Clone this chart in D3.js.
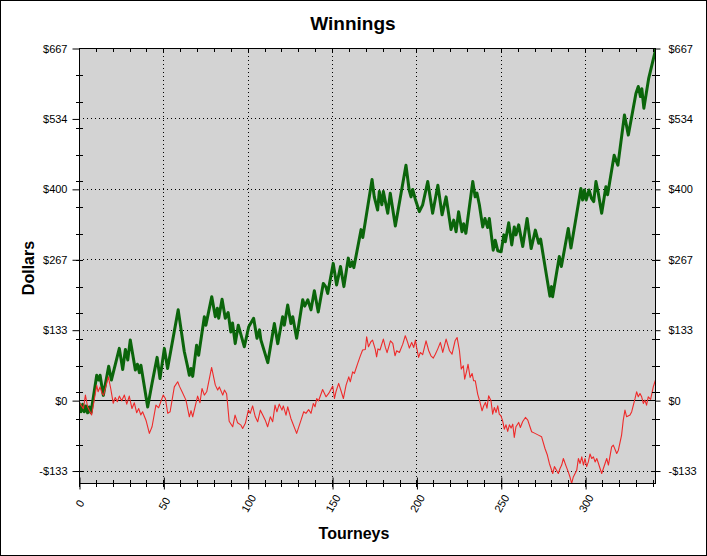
<!DOCTYPE html>
<html><head><meta charset="utf-8">
<script src="https://cdn.jsdelivr.net/npm/d3@7"></script>
<style>
body{margin:0;background:#fff;}
svg{display:block;font-family:"Liberation Sans",Arial,sans-serif;}
</style></head><body>
<svg id="chart" width="707" height="556"></svg>
<script>
// ---- data ----
const greenTourney = [0,1.2,2.2,3.1,4.1,5.1,6.1,7.1,10.5,11.7,12.5,14.4,17.6,19.2,23.9,25.9,27.5,28.9,30.4,33.4,34.6,35.8,36.7,40.7,43.3,46.3,48,50.6,52.5,58.8,62.4,64.4,65.4,66.4,67.4,69.7,70.9,74.3,75.2,78.7,80.8,82,82.8,84.8,86.7,88.4,90,91,92.6,94.4,98,100.6,103.5,105.5,107,107.8,111.9,115.8,117.8,120.7,121.7,123.7,125.6,126.7,129,132.6,133.8,135.6,137.5,139.5,141.8,144.8,146.4,147.4,150.7,152.7,155,157,159.6,160.8,162,162.9,167.2,168.2,171.1,173.7,175,177,178,179.5,180.4,183,184.5,187.5,193.8,195.7,196.8,197.8,199.2,201.7,203.7,206.7,209.6,212.7,215.2,217.6,220.5,222.1,223.5,225,227,228,229.3,233.4,234.8,235.9,237.3,239.3,240.6,242.2,243.2,245.5,246.7,248.2,250.2,251.8,252.7,254.7,256.5,258,259,260.6,263,265.6,268,270.5,272.5,273.6,274.8,279.1,280.1,280.7,284.7,285.9,290,291.6,297.5,298.5,299.6,300.6,302.3,303.8,305.1,306.4,307.8,309.8,312.3,313.3,317.2,319.4,323.3,325.6,330.1,331.5,332.8,333.6,334.8,337.7,342];
const greenDollars = [-5,-22,-8,-22,-11,-24,-13,-24,47,38,47,9,64,38,98,58,96,76,114,57,68,52,66,-13,32,81,41,98,60,171,92,63,47,60,45,104,85,158,142,196,158,174,155,191,155,166,129,146,107,142,101,139,155,117,133,114,71,145,107,158,142,180,145,158,117,190,178,190,171,207,167,221,214,202,259,218,253,215,269,253,262,251,323,308,366,418,385,360,395,370,395,354,392,330,445,398,385,399,382,357,370,414,354,407,351,385,323,341,319,357,319,334,316,414,385,392,370,328,344,327,344,284,303,283,281,313,300,336,294,328,313,332,291,344,287,322,297,305,281,197,215,196,272,253,325,288,401,379,398,379,398,382,376,414,392,354,404,389,464,445,540,502,581,594,575,590,553,610,667];

const redTourney = [0,2.6,3.8,5.1,7.5,10.5,11.3,12.5,13.6,14.6,17.4,18.8,20.3,21.5,22.7,23.9,25.3,26.9,28.3,29.8,31.4,32.8,34.2,35.4,36.6,37.7,39.7,41.7,43.3,45.6,47.2,49.9,51.2,52.6,54,56.5,58.5,59.5,61.1,63.4,65.4,66.4,67.4,70.3,71.7,72.9,74.3,75.7,78.6,80.8,82.2,83.2,85.2,86.2,87.5,89,91.1,92.5,94,96,97,98.6,100.4,101.5,102.9,104.5,105.9,107.5,108.9,110.4,111.8,113.4,114.8,116.2,117.3,118.7,120.3,121.1,122.7,123.7,125.6,129,131.6,133.2,134.5,136.1,137.5,138.9,139.9,140.9,142,144.4,146.4,148,150.4,151.4,152.3,153.9,155.3,156.7,158.3,159.9,160.8,162.2,163.2,165.2,166.7,168.1,169.7,170.5,171.6,173,174,175.6,176.4,177.2,178.4,180.4,181.6,182.6,184.6,186,187.3,188.3,189.9,191.9,193.4,194.8,195.8,197.2,198.4,199.4,200.1,201.3,202.3,203.7,205.7,207.3,208.6,210,211.2,212.6,214.2,215.6,217.6,219.6,221.1,222.9,224.1,225.5,226.6,227.8,228.6,229.8,230.6,231.8,233,233.9,234.9,236.3,237.7,238.9,239.9,240.9,241.8,242.8,244.2,245.2,246.2,247.2,248.2,249.1,250.1,251.1,252.1,253.1,254.1,255.1,256.1,257.1,258,259,260.6,261.6,263,264.6,266,267.3,268.3,270.3,272.3,274.2,276.2,277.6,278.8,280.8,281.8,284.1,285.1,286.1,287.1,288.7,290,291,292,293,295,296,297,298,299,299.9,300.9,301.9,302.9,303.9,304.9,305.9,306.9,307.9,309.8,310.8,312.8,313.8,315.7,316.7,318.7,319.7,321.6,322.6,323.6,324.6,326.6,327.6,329.6,330.5,331.5,332.5,333.5,334.5,335.4,336.4,337.4,338.8,340.4,342];
const redDollars = [-4,-16,9.5,-12.6,-28,28,16,25,13,9.5,44,22,-6,5,-3,7.6,-1.3,9.5,-7.6,7.6,-16,-5,-24,-16,-28,-22,-38,-63,-50.5,-9.5,-14.5,9.5,3,-25,-22,25,34.7,26.5,15.8,0,-31.6,-20,-31.6,7.6,-5,22,9.5,15.8,61.9,28.4,19,25,9.5,19,12,-40,-50.5,-28.4,-43,-47.4,-53.7,-44,-19,-25,-11,-31.6,-41,-19,-28.4,-38,-50.5,-31.6,-41,-9.5,-22,-7.6,-19,-11,-28.4,-12.6,-34.7,-63,-38,-22,-25,-18,-25,-6.3,-12.6,3,-1.3,20,6.3,12.6,26.5,3,15.8,31.6,17.7,3,28.4,44,34.7,53.7,50.5,69.5,83.4,94.8,96,120,101,110.6,113.7,96,82,97,95,115.6,99.8,90,112.4,107.5,84,93.5,90.3,106,122,109.3,98.6,109.3,99.8,113.7,99.8,80.9,90.3,86,112.4,93.5,84,79.6,87,96.6,109.3,90.3,115.6,93.5,87,112.4,118.7,93.5,58.8,65,39.8,55.6,68,43,50.5,36.6,36.6,11.4,-4.4,-20.2,-10.7,-4.4,-15.2,8.2,-1.3,-26.5,-13.9,-23.4,-10.7,-26.5,-29.7,-39.2,-55,-46.7,-59.3,-46.7,-53,-45.5,-70.7,-50.5,-42.3,-51.8,-40.4,-32.8,-37.9,-50.5,-60,-63,-66.3,-69.5,-91.6,-104,-120,-139,-126,-139,-129.6,-123,-110.6,-125,-136,-145.6,-158,-145.6,-133,-110.6,-120,-107.5,-123,-110.6,-126,-117,-102,-110.6,-107.5,-117,-110.6,-120,-139,-129.6,-110.6,-123,-88.5,-85.3,-101,-94.8,-66.3,-37.9,-18.9,-31.6,-28.4,-22,3.2,15.8,6.3,12.6,6.3,-6.3,0,-9.5,6.3,1.3,25.3,41];

const yTickValues = [-133.4, 0, 133.4, 266.8, 400.2, 533.6, 667];
const yTickLabels = ["-$133", "$0", "$133", "$267", "$400", "$534", "$667"];
const yMinorTicks = [-135, -85, -35, 15, 65, 115, 165, 215, 265, 315, 365, 415, 465, 515, 565, 615];
const xTickValues = [0, 50, 100, 150, 200, 250, 300];
const xTickLabels = ["0", "50", "100", "150", "200", "250", "300"];
const xMinorTicks = [0,10,20,30,40,50,60,70,80,90,100,110,120,130,140,150,160,170,180,190,200,210,220,230,240,250,260,270,280,290,300,310,320,330,340];

const title = "Winnings", xTitle = "Tourneys", yTitle = "Dollars";

// ---- drawing ----
const svg = d3.select("#chart");
const L = 79, R = 656, T = 48, B = 483;
const x = d3.scaleLinear().domain([0, 342]).range([L, R]);
const y = d3.scaleLinear().domain([-157, 667]).range([B, T]);

svg.append("rect").attr("x", 0.5).attr("y", 0.5).attr("width", 706).attr("height", 555)
  .attr("fill", "#fff").attr("stroke", "#000").attr("stroke-width", 1);

svg.append("rect").attr("x", L).attr("y", T).attr("width", R - L).attr("height", B - T)
  .attr("fill", "#d3d3d3");

svg.append("defs").append("clipPath").attr("id", "clip")
  .append("rect").attr("x", L).attr("y", T).attr("width", R - L).attr("height", B - T);

const grid = svg.append("g").attr("stroke", "#000").attr("stroke-width", 1).attr("stroke-dasharray", "1,3");
grid.selectAll("line.v").data(xTickValues.filter(d => d > 0)).join("line")
  .attr("x1", d => Math.round(x(d)) + 0.5).attr("x2", d => Math.round(x(d)) + 0.5)
  .attr("y1", T).attr("y2", B);
grid.selectAll("line.h").data(yTickValues.filter(d => d !== 0 && d < 667)).join("line")
  .attr("y1", d => Math.round(y(d)) + 0.5).attr("y2", d => Math.round(y(d)) + 0.5)
  .attr("x1", L).attr("x2", R);

svg.append("line").attr("x1", L).attr("x2", R)
  .attr("y1", Math.round(y(0)) + 0.5).attr("y2", Math.round(y(0)) + 0.5)
  .attr("stroke", "#000").attr("stroke-width", 1);

const plot = svg.append("g").attr("clip-path", "url(#clip)");
const line = d3.line().x(d => x(d[0])).y(d => y(d[1]));
plot.append("path").datum(greenTourney.map((t, i) => [t, greenDollars[i]]))
  .attr("d", line).attr("fill", "none").attr("stroke", "#0b650b")
  .attr("stroke-width", 3).attr("stroke-linejoin", "round");
plot.append("path").datum(redTourney.map((t, i) => [t, redDollars[i]]))
  .attr("d", line).attr("fill", "none").attr("stroke", "#ee2a2a")
  .attr("stroke-width", 1.1).attr("stroke-linejoin", "round");

svg.append("rect").attr("x", L + 0.5).attr("y", T + 0.5).attr("width", R - L - 1).attr("height", B - T)
  .attr("fill", "none").attr("stroke", "#000").attr("stroke-width", 1);

// axes
const fmtY = (d, i) => yTickLabels[i];
const axL = svg.append("g").attr("transform", `translate(${L + 0.5},0.5)`)
  .call(d3.axisLeft(y).tickValues(yTickValues).tickFormat(fmtY).tickSizeInner(7).tickSizeOuter(0).tickPadding(5));
const axR = svg.append("g").attr("transform", `translate(${R - 0.5},0.5)`)
  .call(d3.axisRight(y).tickValues(yTickValues).tickFormat(fmtY).tickSizeInner(5).tickSizeOuter(0).tickPadding(8));
const axB = svg.append("g").attr("transform", `translate(0.5,${B + 0.5})`)
  .call(d3.axisBottom(x).tickValues(xTickValues).tickFormat((d, i) => xTickLabels[i]).tickSizeInner(7).tickSizeOuter(0).tickPadding(0));
[axL, axR, axB].forEach(g => {
  g.select(".domain").remove();
  g.selectAll("text").attr("font-size", 11).attr("fill", "#000")
    .attr("font-family", '"Liberation Sans",Arial,sans-serif');
  g.selectAll("line").attr("stroke", "#000");
});
axB.selectAll(".tick text").attr("y", 0).attr("dy", "0.35em")
  .attr("text-anchor", "middle").attr("transform", "translate(0,20) rotate(-60)");
// major bottom ticks extend upward too
axB.selectAll(".tick line").attr("y1", -6).attr("y2", 6);

const minor = svg.append("g").attr("stroke", "#000").attr("stroke-width", 1);
minor.selectAll("line.yl").data(yMinorTicks).join("line")
  .attr("x1", L - 3).attr("x2", L + 4)
  .attr("y1", d => Math.round(y(d)) + 0.5).attr("y2", d => Math.round(y(d)) + 0.5);
minor.selectAll("line.yr").data(yMinorTicks).join("line")
  .attr("x1", R - 4).attr("x2", R + 4)
  .attr("y1", d => Math.round(y(d)) + 0.5).attr("y2", d => Math.round(y(d)) + 0.5);
minor.selectAll("line.xb").data(xMinorTicks).join("line")
  .attr("x1", d => Math.round(x(d)) + 0.5).attr("x2", d => Math.round(x(d)) + 0.5)
  .attr("y1", B - 3).attr("y2", B + 4);
minor.selectAll("line.xt").data(xMinorTicks).join("line")
  .attr("x1", d => Math.round(x(d)) + 0.5).attr("x2", d => Math.round(x(d)) + 0.5)
  .attr("y1", T).attr("y2", T + 4);

// titles
svg.append("text").attr("x", 353).attr("y", 30).attr("text-anchor", "middle")
  .attr("font-size", 19).attr("font-weight", "bold").text(title);
svg.append("text").attr("x", 354).attr("y", 539).attr("text-anchor", "middle")
  .attr("font-size", 16).attr("font-weight", "bold").text(xTitle);
svg.append("text").attr("transform", "translate(34,268) rotate(-90)").attr("text-anchor", "middle")
  .attr("font-size", 16).attr("font-weight", "bold").text(yTitle);
</script>
</body></html>
